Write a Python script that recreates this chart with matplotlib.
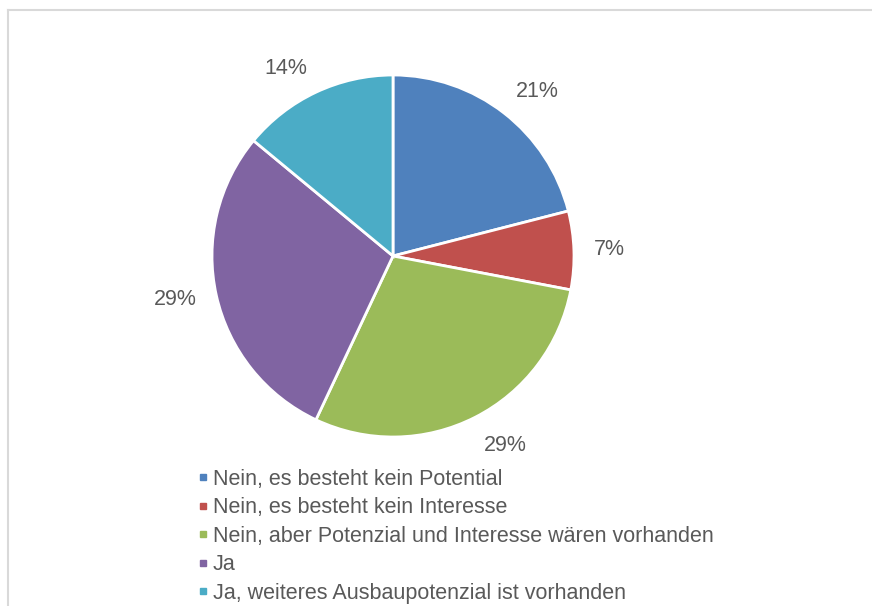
import numpy as np
import matplotlib.pyplot as plt
from matplotlib.lines import Line2D

labels = ["Nein, es besteht kein Potential",
          "Nein, es besteht kein Interesse",
          "Nein, aber Potenzial und Interesse wären vorhanden",
          "Ja",
          "Ja, weiteres Ausbaupotenzial ist vorhanden"]
values = [21, 7, 29, 29, 14]
colors = ["#4F81BD", "#C0504D", "#9BBB59", "#8064A2", "#4BACC6"]

plt.rcParams['font.family'] = ['Liberation Sans', 'DejaVu Sans']
txt = "#595959"

W, H = 872, 606
fig = plt.figure(figsize=(W / 100, H / 100), dpi=100)

# pie area in pixels: centre (393, 256), radius 181
cx, cy, r = 393, 256, 181
ax = fig.add_axes([(cx - r) / W, (H - cy - r) / H, 2 * r / W, 2 * r / H])
wedges, _ = ax.pie(values, colors=colors, startangle=90, counterclock=False,
                   wedgeprops=dict(edgecolor='white', linewidth=2))

# labels "outside end": box corner touches a point just outside the rim
total = sum(values)
for w, v in zip(wedges, values):
    a = np.deg2rad((w.theta1 + w.theta2) / 2)
    c, s = np.cos(a), np.sin(a)
    ha = 'left' if c > 0.25 else ('right' if c < -0.25 else 'center')
    va = 'baseline' if s > 0.3 else ('top' if s < -0.3 else 'center')
    ax.text(1.11 * c, 1.11 * s, f"{v / total * 100:.0f}%", ha=ha, va=va,
            color=txt, fontsize=15.5)

ax.set_xlim(-1, 1)
ax.set_ylim(-1, 1)
ax.set_aspect('equal')
ax.axis('off')

handles = [Line2D([], [], marker='s', linestyle='none', markersize=4.5,
                  markerfacecolor=c, markeredgecolor=c) for c in colors]
fig.legend(handles, labels, loc='upper left',
           bbox_to_anchor=(190 / W, 1 - 460 / H), frameon=False,
           fontsize=15.5, labelcolor=txt, handlelength=0.45, handletextpad=0.22,
           labelspacing=0.35, borderaxespad=0)

# chart frame (cut off at right and bottom)
fig.add_artist(Line2D([8 / W, 8 / W], [0, 1 - 9.5 / H], color='#D9D9D9', lw=1.5))
fig.add_artist(Line2D([8 / W, 1], [1 - 9.5 / H, 1 - 9.5 / H], color='#D9D9D9', lw=1.5))

fig.savefig('out.png', dpi=100, facecolor='white')
